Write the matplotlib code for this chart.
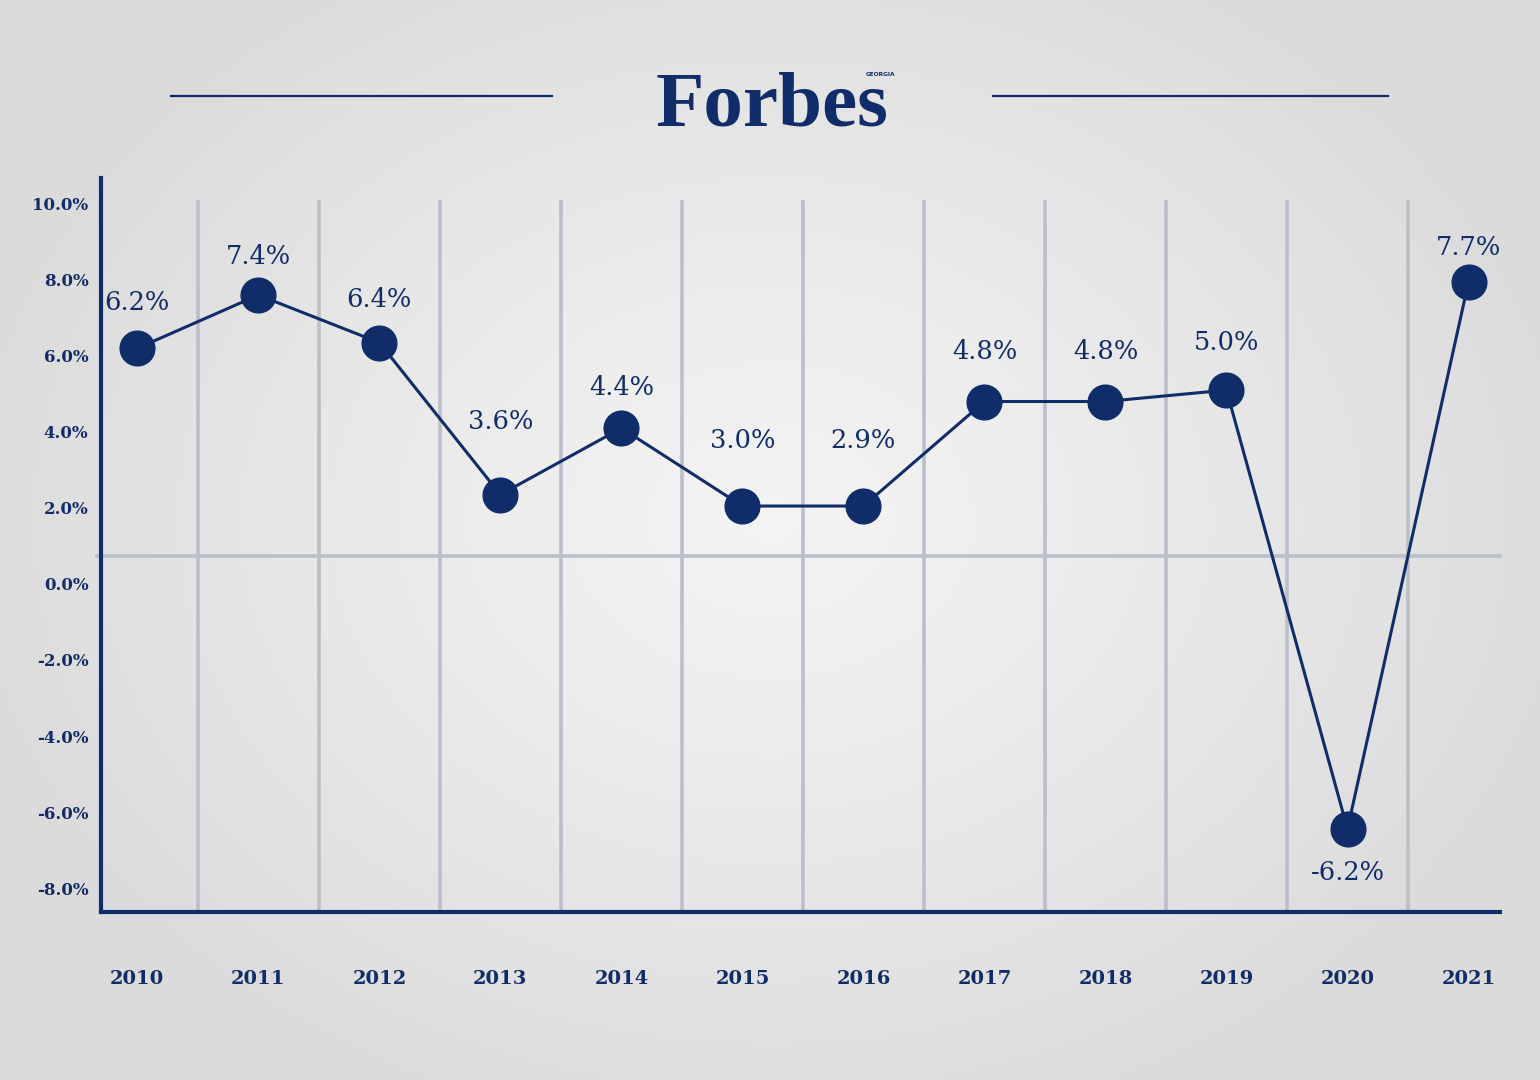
import numpy as np
import matplotlib
matplotlib.use("Agg")
import matplotlib.pyplot as plt

# ---- data ----
years = ["2010", "2011", "2012", "2013", "2014", "2015", "2016", "2017", "2018", "2019", "2020", "2021"]
label_text = ["6.2%", "7.4%", "6.4%", "3.6%", "4.4%", "3.0%", "2.9%", "4.8%", "4.8%", "5.0%", "-6.2%", "7.7%"]
# marker heights as drawn in the picture (percent on the y scale)
plotted_values = [6.2, 7.6, 6.35, 2.35, 4.1, 2.05, 2.05, 4.8, 4.8, 5.1, -6.45, 7.95]
y_ticks = [-8, -6, -4, -2, 0, 2, 4, 6, 8, 10]
ref_line = 0.74

NAVY = "#102d69"
GRID = "#b9c0cc"

W, H = 1540, 1080
fig = plt.figure(figsize=(W / 100, H / 100), dpi=100)

# radial gradient background
bg = fig.add_axes([0, 0, 1, 1], zorder=-10)
yy, xx = np.mgrid[0:H, 0:W]
r = np.sqrt(((xx - 770) / 800.0) ** 2 + ((yy - 520) / 620.0) ** 2)
r = np.clip(r, 0, 1)
val = 0.955 - (0.955 - 0.862) * r ** 1.2
img = np.dstack([val, val, val])
bg.imshow(img, aspect="auto", extent=[0, 1, 0, 1])
bg.axis("off")

ax = fig.add_axes([101 / W, 1 - 912 / H, (1500 - 101) / W, (912 - 178) / H])
ax.set_facecolor("none")
x = np.arange(len(years))
ax.set_xlim(-0.30, 11.26)
ax.set_ylim(-8.63, 10.68)

# vertical separators between years
for xv in x[:-1] + 0.5:
    ax.plot([xv, xv], [-8.63, 10.1], color=GRID, lw=2.6, zorder=1, solid_capstyle="butt")
ax.axhline(ref_line, color=GRID, lw=2.6, zorder=1, xmin=-0.003, clip_on=False)

ax.plot(x, plotted_values, color=NAVY, lw=2.2, zorder=3)
ax.plot(x, plotted_values, "o", color=NAVY, ms=25, zorder=4)

offsets = [33, 28, 31, 53, 29, 47, 47, 36, 36, 34, -31, 25]
for xi, yv, t, off in zip(x, plotted_values, label_text, offsets):
    ax.annotate(t, (xi, yv), xytext=(0, off), textcoords="offset points",
                ha="center", va="center", fontsize=18.5, color=NAVY,
                family="DejaVu Serif", zorder=5)

for s in ["top", "right"]:
    ax.spines[s].set_visible(False)
for s in ["left", "bottom"]:
    ax.spines[s].set_color(NAVY)
    ax.spines[s].set_linewidth(3)

ax.set_yticks(y_ticks)
ax.set_yticklabels([f"{v:.1f}%" for v in y_ticks])
ax.set_xticks(x)
ax.set_xticklabels(years)
ax.tick_params(axis="y", length=0, pad=9, labelsize=12, labelcolor=NAVY)
ax.tick_params(axis="x", length=0, pad=42, labelsize=14, labelcolor=NAVY)
for lbl in ax.get_yticklabels() + ax.get_xticklabels():
    lbl.set_fontfamily("DejaVu Serif")
    lbl.set_fontweight("bold")

# header: lines and logo
fig.add_artist(plt.Line2D([171 / W, 552 / W], [1 - 96 / H] * 2, color=NAVY, lw=1.6))
fig.add_artist(plt.Line2D([993 / W, 1388 / W], [1 - 96 / H] * 2, color=NAVY, lw=1.6))
fig.text(772 / W, 1 - 126 / H, "Forbes", ha="center", va="baseline", fontsize=57,
         fontweight="bold", family="Liberation Serif", color=NAVY)
fig.text(880 / W, 1 - 75 / H, "GEORGIA", ha="center", va="center", fontsize=4.2,
         fontweight="bold", family="DejaVu Sans", color=NAVY)

fig.savefig("out.png", dpi=100)
